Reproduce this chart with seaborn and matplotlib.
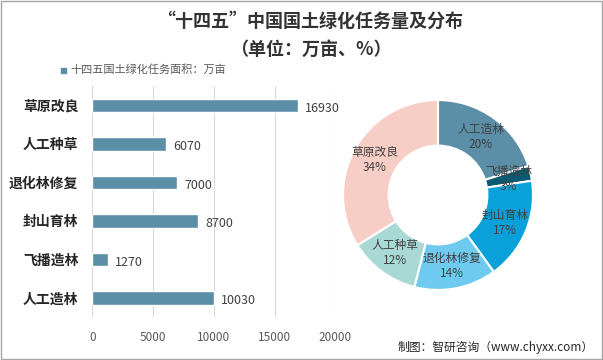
import matplotlib
matplotlib.use("Agg")
import matplotlib.pyplot as plt
import seaborn as sns
import pandas as pd
import numpy as np

# data
categories = ["草原改良", "人工种草", "退化林修复", "封山育林", "飞播造林", "人工造林"]
areas = [16930, 6070, 7000, 8700, 1270, 10030]

pie_labels = ["人工造林", "飞播造林", "封山育林", "退化林修复", "人工种草", "草原改良"]
pie_values = [10030, 1270, 8700, 7000, 6070, 16930]
pie_colors = ["#5b8fa8", "#0b5a72", "#0aa1da", "#6fcaf0", "#a9d9d5", "#f7cec5"]

x_ticks = [0, 5000, 10000, 15000, 20000]

sns.set_theme(style="white")
plt.rcParams['font.family'] = ['Noto Sans CJK SC', 'DejaVu Sans']

fig = plt.figure(figsize=(6.03, 3.6), dpi=100)

# bar chart
ax = fig.add_axes([0.153, 0.119, 0.403, 0.642])
df = pd.DataFrame({"cat": categories, "area": areas})
sns.barplot(data=df, x="area", y="cat", color="#5b8fa8", width=0.35,
            saturation=1, ax=ax, zorder=3)
ax.set_xlim(0, 20000)
ax.set_xticks(x_ticks)
ax.set_xticklabels([str(t) for t in x_ticks], color="#595959", fontsize=8.5)
ax.grid(axis='x', color="#d9d9d9", linewidth=0.8, zorder=0)
for s in ax.spines.values():
    s.set_visible(False)
ax.set_xlabel("")
ax.set_ylabel("")
ax.tick_params(axis='both', length=0, pad=10)
for lbl in ax.get_yticklabels():
    lbl.set_fontweight("bold")
    lbl.set_fontsize(10)
    lbl.set_color("#262626")
for i, v in enumerate(areas):
    ax.text(v + 600, i + 0.08, str(v), va="center", ha="left",
            fontsize=9, color="#404040")

# donut chart
pax = fig.add_axes([(438 - 100) / 603, 1 - (195 + 100) / 360, 200 / 603, 200 / 360])
total = sum(pie_values)
wedges, _ = pax.pie(pie_values, colors=pie_colors, startangle=90, counterclock=False,
                    radius=1, wedgeprops=dict(width=0.48, edgecolor="white", linewidth=1.5))
pax.set_xlim(-1.053, 1.053)
pax.set_ylim(-1.053, 1.053)
pax.set_aspect("equal")
angle = 90.0
for lab, v in zip(pie_labels, pie_values):
    frac = v / total
    mid = np.deg2rad(angle - frac * 360 / 2)
    angle -= frac * 360
    r = 0.76
    x, y = r * np.cos(mid), r * np.sin(mid)
    pax.text(x, y, f"{lab}\n{round(frac * 100):.0f}%", ha="center", va="center",
             fontsize=8.5, color="#404040", linespacing=1.2)

# titles and legend
fig.text(0.515, 0.94, "“十四五”中国国土绿化任务量及分布", ha="center", va="center",
         fontsize=13, fontweight="bold", color="#333333")
fig.text(0.515, 0.862, "（单位：万亩、%）", ha="center", va="center",
         fontsize=13, fontweight="bold", color="#333333")
fig.patches.append(plt.Rectangle((61 / 603, 1 - 73 / 360), 5 / 603, 5 / 360,
                                 transform=fig.transFigure, color="#5b8fa8"))
fig.text(70 / 603, 1 - 70 / 360, "十四五国土绿化任务面积：万亩", ha="left", va="center",
         fontsize=8, color="#595959")

fig.text(0.985, 0.035, "制图：智研咨询（www.chyxx.com）", ha="right", va="center",
         fontsize=8.5, color="#262626")

# outer border
fig.patches.append(plt.Rectangle((0.002, 0.003), 0.996, 0.994, transform=fig.transFigure,
                                 fill=False, edgecolor="#a6a6a6", linewidth=1))

fig.savefig("out.png", dpi=100)
